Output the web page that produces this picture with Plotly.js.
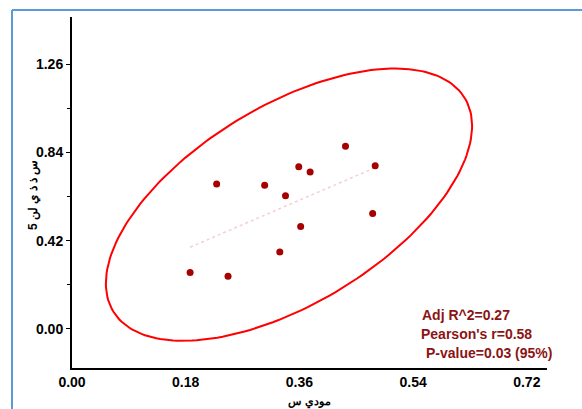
<!DOCTYPE html>
<html>
<head>
<meta charset="utf-8">
<script src="https://cdn.plot.ly/plotly-3.0.1.min.js"></script>
<style>
html,body{margin:0;padding:0;background:#fff;}
#chart{width:582px;height:409px;}
</style>
</head>
<body>
<div id="chart"></div>
<script>
// ---- data ----
const xValues = [0.187, 0.247, 0.229, 0.305, 0.338, 0.359, 0.377, 0.433, 0.480, 0.476, 0.362, 0.329];
const yValues = [0.268, 0.251, 0.690, 0.684, 0.633, 0.772, 0.747, 0.869, 0.776, 0.549, 0.487, 0.366];
const xTickVals = [0.00, 0.18, 0.36, 0.54, 0.72];
const yTickVals = [0.00, 0.42, 0.84, 1.26];
const statLabels = ["Adj R^2=0.27", "Pearson's r=0.58", "P-value=0.03 (95%)"];
const xTitle = "مودي س";
const yTitle = "5 س ذ ذ ي لن";
const fCrit = 4.103; // F(2, n-2) at 95%, n = 12

// ---- statistics computed from the data ----
const n = xValues.length;
const mx = xValues.reduce((a,b)=>a+b,0)/n;
const my = yValues.reduce((a,b)=>a+b,0)/n;
let sxx=0, syy=0, sxy=0;
for (let i=0;i<n;i++){ const dx=xValues[i]-mx, dy=yValues[i]-my; sxx+=dx*dx; syy+=dy*dy; sxy+=dx*dy; }
const slope = sxy/sxx, icpt = my - slope*mx;
const xmin = Math.min(...xValues), xmax = Math.max(...xValues);
const cxx=sxx/(n-1), cyy=syy/(n-1), cxy=sxy/(n-1);
// prediction ellipse
const k = Math.sqrt(2*(n-1)*(n+1)/(n*(n-2))*fCrit);
const tr=cxx+cyy, det=cxx*cyy-cxy*cxy;
const l1=tr/2+Math.sqrt(tr*tr/4-det), l2=tr/2-Math.sqrt(tr*tr/4-det);
const ang=Math.atan2(l1-cxx, cxy);
const ex=[], ey=[];
for (let i=0;i<=200;i++){
  const t=2*Math.PI*i/200;
  const a=k*Math.sqrt(l1)*Math.cos(t), b=k*Math.sqrt(l2)*Math.sin(t);
  ex.push(mx + a*Math.cos(ang) - b*Math.sin(ang));
  ey.push(my + a*Math.sin(ang) + b*Math.cos(ang));
}

const font = "Arial, 'Liberation Sans', sans-serif";
const traces = [
  {x: ex, y: ey, mode:'lines', line:{color:'#ff0000', width:2}, hoverinfo:'skip'},
  {x: [xmin, xmax], y: [icpt+slope*xmin, icpt+slope*xmax], mode:'lines',
   line:{color:'#f6cdd5', width:1.5, dash:'dot'}, hoverinfo:'skip'},
  {x: xValues, y: yValues, mode:'markers', marker:{color:'#a60000', size:7}}
];

// plot area in pixels: left 72, right 547, top 17, bottom 368
const W=475, H=351;
const fx = px => (px-72)/W;
const fy = py => 1-(py-17)/H;

const statPos = [[420, 315], [419, 334], [424, 353]];
const annotations = statLabels.map((s,i)=>({
  text: s, xref:'paper', yref:'paper', x: fx(statPos[i][0]), y: fy(statPos[i][1]),
  xanchor:'left', yanchor:'middle', showarrow:false,
  font:{family:font, size:14, color:'#8b1414', weight:'bold'}
}));
annotations.push({
  text: yTitle, xref:'paper', yref:'paper', x: fx(33), y: fy(195),
  xanchor:'center', yanchor:'middle', textangle:-90, showarrow:false,
  font:{family:font, size:12, color:'#000', weight:'bold'}
});

const layout = {
  width:582, height:409,
  margin:{l:72, r:35, t:17, b:41},
  paper_bgcolor:'#ffffff', plot_bgcolor:'#ffffff',
  showlegend:false,
  xaxis:{
    range:[0, 0.752], tickvals:xTickVals, tickformat:'.2f', ticks:'',
    showgrid:false, zeroline:false, showline:true, linecolor:'#000', linewidth:2,
    tickfont:{family:font, size:14, color:'#000', weight:'bold'},
    title:{text:xTitle, font:{family:font, size:11, color:'#000', weight:'bold'}, standoff:13}
  },
  yaxis:{
    range:[-0.186, 1.484], tickvals:yTickVals, tickformat:'.2f', ticks:'outside', ticklen:4, tickwidth:1, tickcolor:'#000',
    minor:{tickvals:[0.21,0.63,1.05], ticks:'outside', ticklen:3, tickcolor:'#000'},
    showgrid:false, zeroline:false, showline:true, linecolor:'#000', linewidth:2,
    tickfont:{family:font, size:14, color:'#000', weight:'bold'}
  },
  annotations: annotations,
  shapes:[
    {type:'line', xref:'paper', yref:'paper', x0:fx(12), x1:fx(12), y0:fy(420), y1:fy(10),
     line:{color:'#5b9bd5', width:2}},
    {type:'line', xref:'paper', yref:'paper', x0:fx(12), x1:fx(600), y0:fy(10), y1:fy(10),
     line:{color:'#5b9bd5', width:2}}
  ]
};
Plotly.newPlot('chart', traces, layout, {displayModeBar:false, staticPlot:true});
</script>
</body>
</html>
